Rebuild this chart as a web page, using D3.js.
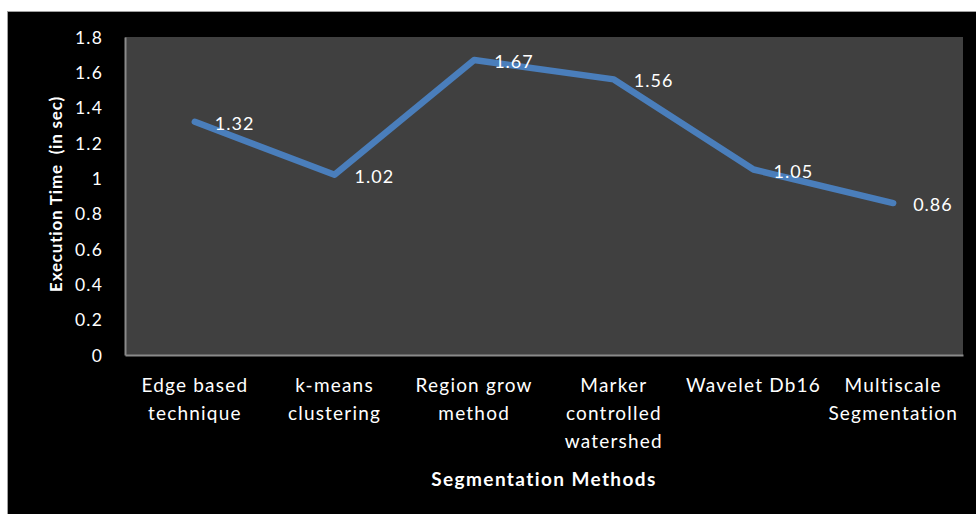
<!DOCTYPE html>
<html><head><meta charset="utf-8">
<script src="https://cdn.jsdelivr.net/npm/d3@7"></script>
<style>
html,body{margin:0;padding:0;background:#fff;}
svg{display:block;}
text{font-family:Lato,"Open Sans",sans-serif;fill:#fff;}
</style></head>
<body>
<script>
const categories = [
  ["Edge based","technique"],
  ["k-means","clustering"],
  ["Region grow","method"],
  ["Marker","controlled","watershed"],
  ["Wavelet Db16"],
  ["Multiscale","Segmentation"]
];
const values = [1.32, 1.02, 1.67, 1.56, 1.05, 0.86];
const yTicks = [0, 0.2, 0.4, 0.6, 0.8, 1, 1.2, 1.4, 1.6, 1.8];
const yTitle = "Execution Time\u00a0 (in sec)";
const xTitle = "Segmentation Methods";

const W = 976, H = 514;
const svg = d3.select("body").append("svg").attr("width", W).attr("height", H);

// outer black panel
svg.append("rect").attr("x", 7.5).attr("y", 11.5).attr("width", W).attr("height", H)
  .attr("fill", "#000").attr("stroke", "#a0a0a0").attr("stroke-width", 1);

const plot = {left: 125, right: 963, top: 37, bottom: 355};
const idx = d3.range(categories.length);
const x = d3.scaleBand().domain(idx).range([plot.left, plot.right]).padding(0);
const y = d3.scaleLinear().domain([0, 1.8]).range([plot.bottom, plot.top]);

svg.append("rect").attr("x", plot.left).attr("y", plot.top)
  .attr("width", plot.right - plot.left).attr("height", plot.bottom - plot.top)
  .attr("fill", "#404040");

// y axis
const yAxis = svg.append("g").attr("transform", `translate(${plot.left},0)`)
  .call(d3.axisLeft(y).tickValues(yTicks).tickSize(0).tickPadding(22).tickFormat(d3.format("~g")));
yAxis.select(".domain").attr("stroke", "#8a8a8a").attr("stroke-width", 2);
yAxis.selectAll("text").attr("font-size", 17.5).attr("letter-spacing", 1.2)
  .attr("fill", "#fff").attr("font-family", "Lato").attr("dy", "0.36em");

// x axis
const xAxis = svg.append("g").attr("transform", `translate(0,${plot.bottom})`)
  .call(d3.axisBottom(x).tickSize(0).tickFormat(""));
xAxis.select(".domain").attr("stroke", "#8a8a8a").attr("stroke-width", 2);
xAxis.selectAll(".tick").each(function(d) {
  const t = d3.select(this).append("text").attr("text-anchor", "middle")
    .attr("font-size", 19).attr("letter-spacing", 1.2).attr("fill", "#fff").attr("y", 37);
  categories[d].forEach((line, i) => {
    t.append("tspan").attr("x", 0).attr("dy", i === 0 ? 0 : 28).text(line);
  });
});

// line
const line = d3.line().x((d, i) => x(i) + x.bandwidth() / 2).y(d => y(d));
svg.append("path").datum(values).attr("d", line)
  .attr("fill", "none").attr("stroke", "#4a7ebb").attr("stroke-width", 6.5)
  .attr("stroke-linejoin", "round").attr("stroke-linecap", "round");

// data labels
svg.append("g").selectAll("text").data(values).join("text")
  .attr("x", (d, i) => x(i) + x.bandwidth() / 2 + 20)
  .attr("y", d => y(d) + 8)
  .attr("font-size", 18).attr("letter-spacing", 1)
  .text(d => d3.format(".2f")(d));

// axis titles
svg.append("text").attr("transform", `translate(62,${(plot.top + plot.bottom) / 2 - 2}) rotate(-90)`)
  .attr("text-anchor", "middle").attr("font-weight", "bold").attr("font-size", 17)
  .attr("letter-spacing", 0.8).text(yTitle);
svg.append("text").attr("x", 544).attr("y", 486).attr("text-anchor", "middle")
  .attr("font-weight", "bold").attr("font-size", 19).attr("letter-spacing", 1.4).text(xTitle);
</script>
</body></html>
